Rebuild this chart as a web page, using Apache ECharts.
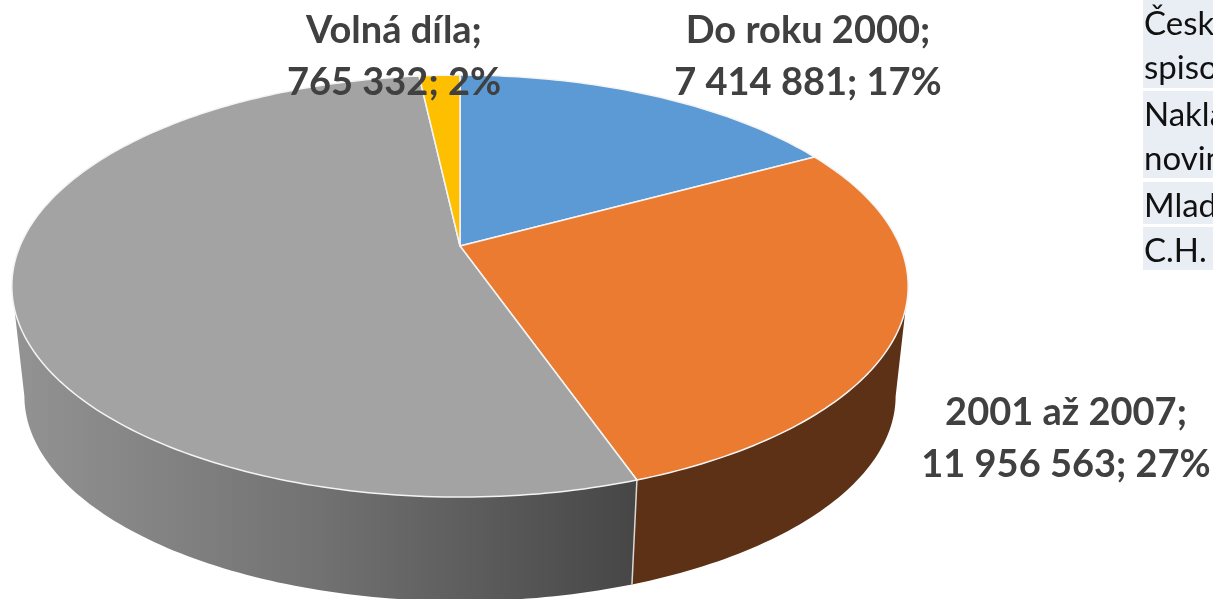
<!DOCTYPE html>
<html>
<head>
    <meta charset="utf-8" />
    <title>Graf</title>
    <style type="text/css">
        html,body{margin:0;padding:0;height:100%;background-color:#fff;}
        #pie{width:1213px;height:599px;}
    </style>
</head>
<body>
<div id="pie"></div>
<script src="https://cdn.jsdelivr.net/npm/echarts@6/dist/echarts.min.js"></script>
<script>
    // data
    var names = ['Do roku 2000', '2001 až 2007', 'Od roku 2008', 'Volná díla'];
    var values = [7414881, 11956563, 23250000, 765332];
    var percents = [17, 27, 54, 2];
    var topColors = ['#5b9ad5', '#ea7b31', '#a3a3a3', '#fdbf00'];
    var hiddenLabel = [false, false, true, false];
    var tableRows = [['Česká', 'spisov'], ['Nakla', 'novin'], ['Mladá'], ['C.H. Beck']];

    // layout of the tilted disc (perspective: the far side is squeezed)
    var cx = 460, cy = 246, rx = 440, ry = 203.4, persp = 0.19;
    var floorScale = 0.972, floorY = 357;
    var sideFrom = 101, sideTo = 259;
    var labelX = [808, 1066, 0, 394];
    var labelY = [57, 439, 0, 57];

    var total = 0;
    for (var i = 0; i < values.length; i++) total += values[i];
    var angles = [0];
    for (var j = 0; j < values.length; j++) angles.push(angles[j] + values[j] / total * 360);

    function rimPoint(deg, scale, baseY) {
        var a = deg * Math.PI / 180;
        var s = 1 / (1 + persp * Math.cos(a));
        return [cx + rx * scale * Math.sin(a) * s, baseY - ry * scale * Math.cos(a) * s];
    }

    function arc(from, to, scale, baseY) {
        var pts = [];
        var n = Math.max(2, Math.ceil(Math.abs(to - from)));
        for (var k = 0; k <= n; k++) pts.push(rimPoint(from + (to - from) * k / n, scale, baseY));
        return pts;
    }

    function fmt(v) {
        return String(v).replace(/\B(?=(\d{3})+$)/g, ' ');
    }

    var sideFill = [
        null,
        '#5d3116',
        new echarts.graphic.LinearGradient(0, 0, 1, 0, [
            {offset: 0, color: '#939393'},
            {offset: 0.5, color: '#717171'},
            {offset: 1, color: '#464646'}
        ]),
        null
    ];

    function renderSide(params) {
        var idx = params.dataIndex;
        var from = Math.max(angles[idx], sideFrom), to = Math.min(angles[idx + 1], sideTo);
        if (!sideFill[idx] || to <= from) return null;
        var children = [{
            type: 'polygon',
            shape: {points: arc(from, to, 1, cy).concat(arc(to, from, floorScale, floorY))},
            style: {fill: sideFill[idx]}
        }];
        // light edge where this slice meets the next one
        if (angles[idx + 1] < sideTo) {
            children.push({
                type: 'polyline',
                z2: 5,
                shape: {points: [rimPoint(to, 1, cy), rimPoint(to, floorScale, floorY)]},
                style: {stroke: '#d8d8d8', lineWidth: 1.5, fill: null}
            });
        }
        return {type: 'group', children: children};
    }

    function renderTop(params) {
        var idx = params.dataIndex;
        var pts = [[cx, cy]].concat(arc(angles[idx], angles[idx + 1], 1, cy));
        return {
            type: 'polygon',
            shape: {points: pts},
            style: {fill: topColors[idx], stroke: '#f4f4f4', lineWidth: 1.5, lineJoin: 'round'}
        };
    }

    function renderLabel(params) {
        var idx = params.dataIndex;
        if (hiddenLabel[idx]) return null;
        return {
            type: 'text',
            style: {
                x: labelX[idx],
                y: labelY[idx],
                text: names[idx] + ';\n' + fmt(values[idx]) + '; ' + percents[idx] + '%',
                fill: '#404040',
                font: 'bold 38px Lato',
                lineHeight: 52,
                align: 'center',
                verticalAlign: 'middle'
            }
        };
    }

    // table fragment on the right edge
    var tableTop = [0, 91, 182, 227];
    var tableHeight = [88, 87, 42, 43];
    var tableGraphic = [];
    for (var r = 0; r < tableRows.length; r++) {
        tableGraphic.push({
            type: 'rect',
            shape: {x: 1143, y: tableTop[r], width: 70, height: tableHeight[r]},
            style: {fill: '#e9edf4'}
        });
        for (var l = 0; l < tableRows[r].length; l++) {
            tableGraphic.push({
                type: 'text',
                style: {
                    x: 1144,
                    y: tableTop[r] + 24 + l * 44,
                    text: tableRows[r][l],
                    fill: '#111',
                    font: '33px Lato',
                    verticalAlign: 'middle'
                }
            });
        }
    }

    var pie = echarts.init(document.getElementById('pie'));
    pie.setOption({
        animation: false,
        backgroundColor: '#fff',
        graphic: tableGraphic,
        series: [
            {type: 'custom', coordinateSystem: 'none', z: 1, data: values, renderItem: renderSide},
            {type: 'custom', coordinateSystem: 'none', z: 2, data: values, renderItem: renderTop},
            {type: 'custom', coordinateSystem: 'none', z: 3, data: values, renderItem: renderLabel}
        ]
    });
</script>
</body>
</html>
